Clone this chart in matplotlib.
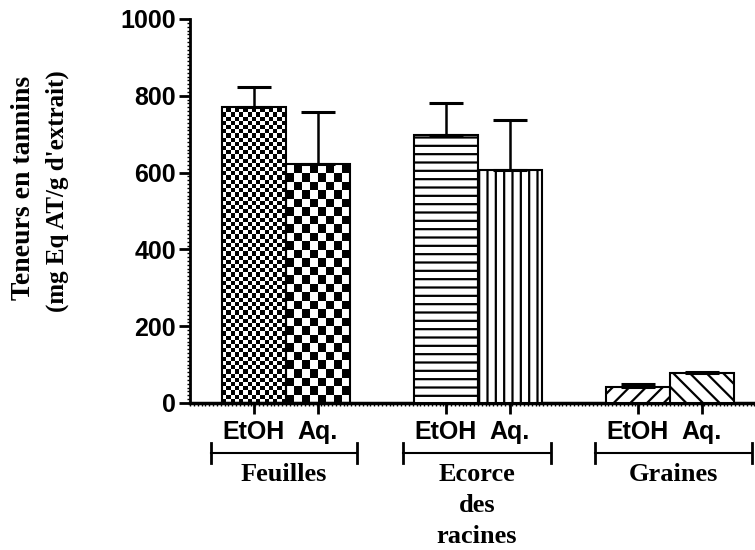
import numpy as np
import matplotlib
matplotlib.use("Agg")
import matplotlib.pyplot as plt
from matplotlib.ticker import MultipleLocator

groups = ["Feuilles", "Ecorce\ndes\nracines", "Graines"]
solvents = ["EtOH", "Aq."]
positions = [1, 2, 4, 5, 7, 8]
values = [771, 622, 698, 607, 42, 78]
errors = [52, 136, 83, 130, 7, 3]
hatches = ["check_s", "check_l", "--", "||", "//", "\\\\"]
ylabel_lines = ["Teneurs en tannins", "(mg Eq AT/g d'extrait)"]

fig = plt.figure(figsize=(7.55, 5.5), dpi=100)
ax = fig.add_axes([190 / 755, (550 - 403) / 550, (755 - 190) / 755, (403 - 19) / 550])

plt.rcParams["hatch.linewidth"] = 1.6
for x, v, h in zip(positions, values, hatches):
    if h.startswith("check"):
        bar = ax.bar(x, v, width=1, color="white", edgecolor="black", linewidth=1.5, zorder=3)[0]
        cell_px = 4.2 if h == "check_s" else 8.5
        nx = int(round(64 / cell_px))
        ny = int(np.ceil(v * 0.384 / cell_px))
        board = (np.add.outer(np.arange(ny), np.arange(nx)) % 2).astype(float)
        im = ax.imshow(board, cmap="gray", interpolation="nearest", aspect="auto",
                       extent=[x - 0.5, x + 0.5, 0, ny * cell_px / 0.384],
                       origin="lower", zorder=2)
        im.set_clip_path(bar)
        bar.set_facecolor("none")
    else:
        ax.bar(x, v, width=1, color="white", edgecolor="black", linewidth=1.5,
               hatch=h, zorder=3)

ax.errorbar(positions, values, yerr=[np.zeros(len(errors)), errors], fmt="none",
            ecolor="black", elinewidth=1.8, capsize=12, capthick=2.2, zorder=4)

ax.set_xlim(0, 8.83)
ax.set_ylim(0, 1000)
ax.spines["top"].set_visible(False)
ax.spines["right"].set_visible(False)
ax.spines["left"].set_linewidth(2)
ax.spines["bottom"].set_linewidth(2.5)

ax.yaxis.set_major_locator(MultipleLocator(200))
ax.yaxis.set_minor_locator(MultipleLocator(10))
ax.xaxis.set_minor_locator(MultipleLocator(0.06))
ax.tick_params(axis="y", which="major", length=8, width=2, labelsize=18, pad=2)
ax.tick_params(axis="both", which="minor", length=2, width=1)
ax.set_xticks(positions)
ax.set_xticklabels(solvents * 3)
ax.tick_params(axis="x", which="major", length=8, width=2, labelsize=18, pad=4)
for lab in ax.get_xticklabels() + ax.get_yticklabels():
    lab.set_fontweight("bold")
    lab.set_family("Liberation Sans")

# y label drawn as two lines
fig.text(24 / 755, 1 - 188 / 550, ylabel_lines[0], rotation=90, ha="center", va="center",
         family="Liberation Serif", fontsize=20, fontweight="bold")
fig.text(57 / 755, 1 - 191 / 550, ylabel_lines[1], rotation=90, ha="center", va="center",
         family="Liberation Serif", fontsize=18, fontweight="bold")

trans = ax.get_xaxis_transform()
brackets = [(0.33, 2.61), (3.33, 5.64), (6.33, 8.78)]
for (x0, x1), name in zip(brackets, groups):
    yb = -(453 - 403) / 384
    ax.plot([x0, x1], [yb, yb], color="black", lw=1.5, transform=trans, clip_on=False)
    for xe in (x0, x1):
        ax.plot([xe, xe], [yb - 10 / 384, yb + 10 / 384], color="black", lw=2,
                transform=trans, clip_on=False)
    ax.text((x0 + x1) / 2, -(463 - 403) / 384, name, transform=trans, ha="center", va="top",
            family="Liberation Serif", fontsize=19, fontweight="bold", linespacing=1.45)

fig.savefig("out.png", dpi=100)
